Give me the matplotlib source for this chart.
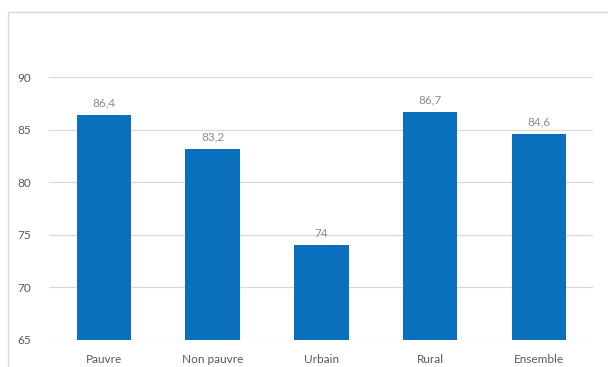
import matplotlib.pyplot as plt
from matplotlib.patches import Rectangle

categories = ["Pauvre", "Non pauvre", "Urbain", "Rural", "Ensemble"]
values = [86.4, 83.2, 74, 86.7, 84.6]
yticks = [65, 70, 75, 80, 85, 90]

plt.rcParams['font.family'] = ['Lato', 'DejaVu Sans']

fig = plt.figure(figsize=(6.08, 3.67), dpi=100)
fig.patch.set_facecolor('white')

# cadre gris clair autour du graphique
fig.patches.append(Rectangle((8 / 608, -0.1), 1.2, 1 - 12 / 367 + 0.1,
                             transform=fig.transFigure, fill=False,
                             edgecolor='#d9d9d9', linewidth=1.0))

ax = fig.add_axes([0.0814, 0.0736, 0.8947, 0.7164])
x = range(len(categories))
ax.bar(x, [v - 65 for v in values], bottom=65, width=0.5, color='#0a70be', zorder=2)

for xi, v in zip(x, values):
    label = f"{v:g}".replace('.', ',')
    ax.text(xi, v + 0.6, label, ha='center', va='bottom', fontsize=8.5, color='#8c8c8c')

ax.set_xlim(-0.5, len(categories) - 0.5)
ax.set_ylim(65, 90)
ax.set_yticks(yticks)
ax.set_xticks(list(x))
ax.set_xticklabels(categories)
ax.tick_params(axis='both', length=0, labelsize=8.5, colors='#595959')
ax.tick_params(axis='y', pad=13)
ax.tick_params(axis='x', pad=10)
ax.grid(axis='y', color='#d9d9d9', linewidth=0.9, zorder=0)
for s in ax.spines.values():
    s.set_visible(False)

fig.savefig('out.png', dpi=100)
